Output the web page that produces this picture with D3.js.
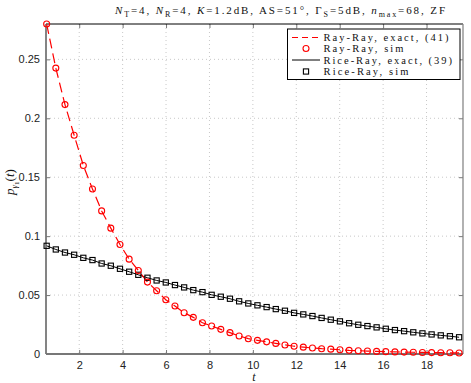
<!DOCTYPE html>
<html><head><meta charset="utf-8">
<script src="https://cdn.jsdelivr.net/npm/d3@7"></script>
<style>body{margin:0;background:#fff}svg{display:block}</style>
</head><body>
<svg id="c" width="471" height="383"></svg>
<script>
// ---- data ----
const tStart = 0.5, tEnd = 19.5, nPts = 46;
const tValues = d3.range(nPts).map(i => tStart + i * (tEnd - tStart) / (nPts - 1));
const rayRay = [0.280,0.2426,0.2116,0.1856,0.160,0.140,0.1214,0.1068,0.0929,0.0805,
  0.0709,0.0610,0.0537,0.0460,0.0407,0.0350,0.0311,0.0265,0.0237,0.0209,
  0.0181,0.0153,0.0130,0.0116,0.0103,0.0090,0.0077,0.0066,0.0058,0.0051,
  0.0045,0.0041,0.0036,0.0031,0.0028,0.0025,0.0022,0.0020,0.0018,0.0016,
  0.0015,0.0013,0.0012,0.0011,0.0010,0.0009];
const riceRay = [0.0918,0.0887,0.0861,0.0842,0.0816,0.0797,0.0768,0.0749,0.0723,0.0698,
  0.0672,0.0647,0.0624,0.0607,0.0585,0.0565,0.0542,0.0525,0.0502,0.0486,
  0.0469,0.0447,0.0429,0.0413,0.0398,0.0381,0.0367,0.0349,0.0336,0.0322,
  0.0306,0.0291,0.0277,0.0261,0.0248,0.0237,0.0226,0.0214,0.0203,0.0194,
  0.0184,0.0175,0.0166,0.0158,0.0151,0.0142];
const xTicks = [2,4,6,8,10,12,14,16,18];
const yTicks = [0,0.05,0.1,0.15,0.2,0.25];
const yTickLabels = ["0","0.05","0.1","0.15","0.2","0.25"];
const legendLabels = ["Ray-Ray, exact, (41)","Ray-Ray, sim","Rice-Ray, exact, (39)","Rice-Ray, sim"];

// ---- layout ----
const L = 46, R = 463, T = 24, B = 354;
const svg = d3.select("#c");
const x = d3.scaleLinear().domain([0.47, 19.68]).range([L, R]);
const y = d3.scaleLinear().domain([0, 0.28]).range([B, T]);
const sans = "'Liberation Sans', Arial, sans-serif";
const serif = "'Liberation Serif', 'DejaVu Serif', serif";

// grid
const g = svg.append("g");
g.selectAll(".gx").data(xTicks).join("line")
  .attr("x1", d => x(d)).attr("x2", d => x(d)).attr("y1", T).attr("y2", B)
  .attr("stroke", "#c8c8c8").attr("stroke-width", 1).attr("stroke-dasharray", "1,3");
g.selectAll(".gy").data(yTicks.slice(1)).join("line")
  .attr("x1", L).attr("x2", R).attr("y1", d => y(d)).attr("y2", d => y(d))
  .attr("stroke", "#c8c8c8").attr("stroke-width", 1).attr("stroke-dasharray", "1,3");

// axes via d3 axis
const xAxis = svg.append("g").attr("transform", `translate(0,${B})`)
  .call(d3.axisBottom(x).tickValues(xTicks).tickSize(-4).tickPadding(7).tickFormat(d3.format("d")));
const yAxis = svg.append("g").attr("transform", `translate(${L},0)`)
  .call(d3.axisLeft(y).tickValues(yTicks).tickSize(-4).tickPadding(6).tickFormat((d,i) => yTickLabels[i]));
[xAxis, yAxis].forEach(a => {
  a.select(".domain").remove();
  a.selectAll(".tick line").attr("stroke", "#777");
  a.selectAll(".tick text").attr("font-family", sans).attr("font-size", 11).attr("fill", "#222");
});
// top and right ticks
const topAx = svg.append("g").attr("transform", `translate(0,${T})`)
  .call(d3.axisTop(x).tickValues(xTicks).tickSize(-4).tickFormat(""));
const rightAx = svg.append("g").attr("transform", `translate(${R},0)`)
  .call(d3.axisRight(y).tickValues(yTicks).tickSize(-4).tickFormat(""));
[topAx, rightAx].forEach(a => { a.select(".domain").remove(); a.selectAll(".tick line").attr("stroke", "#777"); });

// frame
svg.append("line").attr("x1", L).attr("x2", R).attr("y1", T).attr("y2", T).attr("stroke", "#000").attr("stroke-width", 1);
svg.append("line").attr("x1", R).attr("x2", R).attr("y1", T).attr("y2", B).attr("stroke", "#888").attr("stroke-width", 1.3);
svg.append("line").attr("x1", L).attr("x2", R).attr("y1", B).attr("y2", B).attr("stroke", "#777").attr("stroke-width", 1.8);
svg.append("line").attr("x1", L).attr("x2", L).attr("y1", T).attr("y2", B).attr("stroke", "#777").attr("stroke-width", 1.8);

// series
const line = d3.line().x((d,i) => x(tValues[i])).y(d => y(d));
const plot = svg.append("g");
plot.append("path").datum(riceRay).attr("d", line).attr("fill", "none").attr("stroke", "#000").attr("stroke-width", 1);
plot.append("path").datum(rayRay).attr("d", line).attr("fill", "none").attr("stroke", "#ff0000").attr("stroke-width", 1.2).attr("stroke-dasharray", "10,5");
plot.selectAll(".sq").data(riceRay).join("rect")
  .attr("x", (d,i) => x(tValues[i]) - 2.6).attr("y", d => y(d) - 2.6).attr("width", 5.2).attr("height", 5.2)
  .attr("fill", "none").attr("stroke", "#000").attr("stroke-width", 1.1);
plot.selectAll(".ci").data(rayRay).join("circle")
  .attr("cx", (d,i) => x(tValues[i])).attr("cy", d => y(d)).attr("r", 3)
  .attr("fill", "none").attr("stroke", "#ff0000").attr("stroke-width", 1.1);

// legend
const lg = svg.append("g");
lg.append("rect").attr("x", 287.5).attr("y", 29).attr("width", 172.5).attr("height", 50.5)
  .attr("fill", "#fff").attr("stroke", "#000").attr("stroke-width", 1);
const ly = [37.5, 48.5, 60, 71.5];
const lw = [125, 80, 128.5, 85];
lg.append("line").attr("x1", 292).attr("x2", 320).attr("y1", ly[0]).attr("y2", ly[0])
  .attr("stroke", "#ff0000").attr("stroke-width", 1.2).attr("stroke-dasharray", "6,4");
lg.append("circle").attr("cx", 306).attr("cy", ly[1]).attr("r", 3).attr("fill", "none").attr("stroke", "#ff0000").attr("stroke-width", 1.1);
lg.append("line").attr("x1", 292).attr("x2", 320).attr("y1", ly[2]).attr("y2", ly[2]).attr("stroke", "#000").attr("stroke-width", 1);
lg.append("rect").attr("x", 306 - 2.6).attr("y", ly[3] - 2.6).attr("width", 5.2).attr("height", 5.2).attr("fill", "none").attr("stroke", "#000").attr("stroke-width", 1.1);
lg.selectAll(".lt").data(legendLabels).join("text")
  .attr("x", 323.5).attr("y", (d,i) => ly[i] + 3.6)
  .attr("font-family", serif).attr("font-size", 10.5).attr("fill", "#111")
  .attr("textLength", (d,i) => lw[i]).attr("lengthAdjust", "spacing")
  .text(d => d);

// title
const title = svg.append("text").attr("x", 115).attr("y", 13.5)
  .attr("font-family", serif).attr("font-size", 11).attr("fill", "#111")
  .attr("textLength", 330).attr("lengthAdjust", "spacing");
const parts = [
  ["N","i",0],["T","n",1],["=4, ","n",-1],["N","i",0],["R","n",1],["=4, ","n",-1],
  ["K","i",0],["=1.2dB, AS=51°, Γ","n",0],["S","n",1],["=5dB, ","n",-1],
  ["n","i",0],["max","n",1],["=68, ZF","n",-1]
];
parts.forEach(p => {
  const ts = title.append("tspan").text(p[0]).attr("font-style", p[1] === "i" ? "italic" : "normal");
  if (p[2] === 1) ts.attr("dy", 3).attr("font-size", 8);
  if (p[2] === -1) ts.attr("dy", -3);
});

// axis labels
svg.append("text").attr("x", 254).attr("y", 380.5).attr("text-anchor", "middle")
  .attr("font-family", serif).attr("font-style", "italic").attr("font-size", 12).attr("fill", "#111").text("t");
const yl = svg.append("text").attr("transform", "translate(14,182) rotate(-90)").attr("text-anchor", "middle")
  .attr("font-family", serif).attr("font-size", 13).attr("fill", "#111");
yl.append("tspan").attr("font-style", "italic").text("p");
yl.append("tspan").attr("font-style", "italic").attr("font-size", 9).attr("dy", 3).text("γ");
yl.append("tspan").attr("font-size", 7).attr("dy", 2).text("1");
yl.append("tspan").attr("dy", -5).text("(");
yl.append("tspan").attr("font-style", "italic").text("t");
yl.append("tspan").text(")");
</script>
</body></html>
